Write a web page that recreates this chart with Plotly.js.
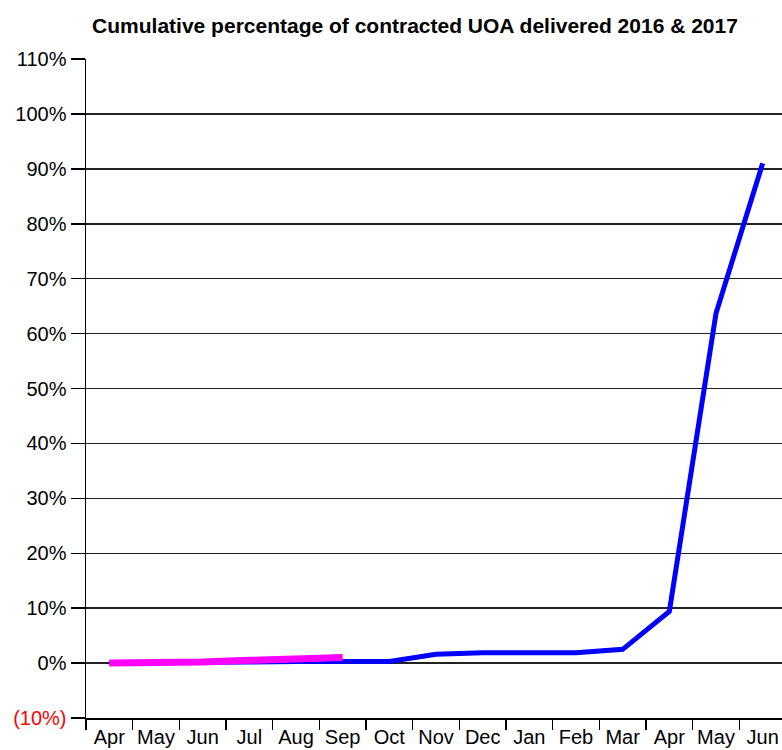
<!DOCTYPE html>
<html>
<head>
<meta charset="utf-8">
<script src="https://cdn.plot.ly/plotly-3.0.1.min.js"></script>
<style>html,body{margin:0;padding:0;background:#fff;}</style>
</head>
<body>
<div id="chart" style="width:782px;height:750px;"></div>
<script>
// Period keys (unique) and their displayed month labels
const periods = ['Apr 16','May 16','Jun 16','Jul 16','Aug 16','Sep 16','Oct 16','Nov 16','Dec 16','Jan 17','Feb 17','Mar 17','Apr 17','May 17','Jun 17'];
const monthLabels = ['Apr','May','Jun','Jul','Aug','Sep','Oct','Nov','Dec','Jan','Feb','Mar','Apr','May','Jun'];

// Series values (percent)
const blueValues = [0, 0, 0.1, 0.2, 0.3, 0.3, 0.3, 1.6, 1.9, 1.9, 1.9, 2.5, 9.4, 63.7, 91.0];
const magentaValues = [0, 0, 0.2, 0.5, 0.9, 1.0];

// Y-axis ticks
const yTickVals = [-10, 0, 10, 20, 30, 40, 50, 60, 70, 80, 90, 100, 110];
const yTickText = ['<span style="color:#ff0000">(10%)</span>', '0%', '10%', '20%', '30%', '40%', '50%', '60%', '70%', '80%', '90%', '100%', '110%'];

const traces = [
  {
    x: periods, y: blueValues, type: 'scatter', mode: 'lines',
    line: {color: '#0000ff', width: 5}, hoverinfo: 'skip'
  },
  {
    x: periods.slice(0, magentaValues.length), y: magentaValues, type: 'scatter', mode: 'lines',
    line: {color: '#ff00ff', width: 7}, hoverinfo: 'skip'
  }
];

const layout = {
  width: 782, height: 750,
  margin: {l: 86, r: 0, t: 59, b: 32, pad: 0},
  paper_bgcolor: '#ffffff', plot_bgcolor: '#ffffff',
  showlegend: false,
  font: {family: 'Liberation Sans, Arial, sans-serif', size: 20, color: '#000'},
  title: {
    text: '<b>Cumulative percentage of contracted UOA delivered 2016 & 2017</b>',
    font: {family: 'Liberation Sans, Arial, sans-serif', size: 21, color: '#000'},
    xref: 'container', x: 0.5307, xanchor: 'center',
    yref: 'container', y: 0.956, yanchor: 'bottom'
  },
  xaxis: {
    type: 'category',
    range: [-0.5, 14.414],
    tickmode: 'array', tickvals: periods, ticktext: monthLabels,
    tickson: 'boundaries', tickangle: 0,
    ticks: 'outside', ticklen: 10, tickwidth: 1.5, tickcolor: '#000',
    showline: true, linecolor: '#000', linewidth: 1.5,
    showgrid: false, zeroline: false,
    tickfont: {size: 20, color: '#000'},
    automargin: false, fixedrange: true
  },
  yaxis: {
    range: [-10, 110],
    tickmode: 'array', tickvals: yTickVals, ticktext: yTickText,
    ticks: 'outside', ticklen: 14, tickwidth: 1.5, tickcolor: '#000',
    showline: true, linecolor: '#000', linewidth: 1.5,
    showgrid: true, gridcolor: '#222', gridwidth: 1.5,
    zeroline: false,
    tickfont: {size: 20, color: '#000'},
    automargin: false, fixedrange: true
  }
};

Plotly.newPlot('chart', traces, layout, {staticPlot: true, displayModeBar: false});
</script>
</body>
</html>
